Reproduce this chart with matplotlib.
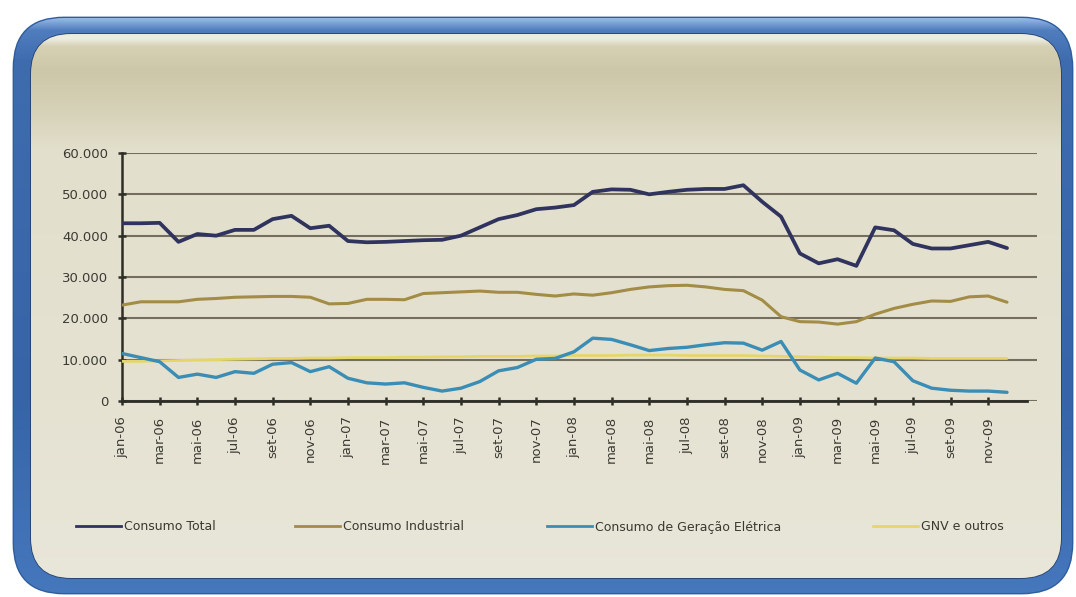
import numpy as np
import matplotlib
matplotlib.use("Agg")
import matplotlib.pyplot as plt
from matplotlib.patches import FancyBboxPatch
from matplotlib.lines import Line2D

# ---------------- data ----------------
months_pt = ["jan", "fev", "mar", "abr", "mai", "jun", "jul", "ago", "set", "out", "nov", "dez"]
years = ["06", "07", "08", "09"]
categories = [f"{m}-{y}" for y in years for m in months_pt]

consumo_total = [43000, 43000, 43100, 38500, 40400, 40000, 41400, 41400, 44000, 44800,
                 41800, 42400, 38700, 38400, 38500, 38700, 38900, 39000, 40000, 42000,
                 44000, 45000, 46400, 46800, 47400, 50600, 51200, 51100, 50000, 50600,
                 51100, 51300, 51300, 52200, 48200, 44600, 35700, 33300, 34300, 32700,
                 42000, 41300, 38000, 36900, 36900, 37700, 38500, 37000]

consumo_industrial = [23200, 24000, 24000, 24000, 24600, 24800, 25100, 25200, 25300, 25300,
                      25100, 23500, 23600, 24600, 24600, 24500, 26000, 26200, 26400, 26600,
                      26300, 26300, 25800, 25400, 25900, 25600, 26200, 27000, 27600, 27900,
                      28000, 27600, 27000, 26700, 24400, 20400, 19200, 19100, 18600, 19200,
                      21000, 22400, 23400, 24200, 24100, 25200, 25400, 23900]

consumo_geracao = [11500, 10500, 9500, 5700, 6500, 5700, 7100, 6700, 8900, 9300,
                   7100, 8300, 5500, 4400, 4100, 4400, 3300, 2400, 3100, 4700,
                   7300, 8100, 10100, 10300, 11900, 15200, 14900, 13600, 12200, 12700,
                   13000, 13600, 14100, 14000, 12300, 14400, 7500, 5100, 6700, 4300,
                   10400, 9500, 4900, 3100, 2600, 2400, 2400, 2100]

gnv_outros = [9600, 9600, 9700, 9800, 9900, 10000, 10100, 10200, 10300, 10300,
              10400, 10400, 10500, 10500, 10500, 10600, 10600, 10700, 10700, 10800,
              10800, 10800, 10900, 10900, 11000, 11000, 11000, 11100, 11100, 11100,
              11000, 11000, 11000, 11000, 10900, 10800, 10700, 10600, 10500, 10500,
              10400, 10400, 10400, 10300, 10300, 10300, 10300, 10300]

series_names = ["Consumo Total", "Consumo Industrial", "Consumo de Geração Elétrica", "GNV e outros"]
y_ticks = [0, 10000, 20000, 30000, 40000, 50000, 60000]
y_ticklabels = ["0", "10.000", "20.000", "30.000", "40.000", "50.000", "60.000"]

# ---------------- figure ----------------
W, H = 1076, 597
fig = plt.figure(figsize=(W / 100, H / 100), dpi=100, facecolor="white")

# background frame (pixel coords)
bg = fig.add_axes([0, 0, 1, 1], zorder=-5)
bg.set_xlim(0, W)
bg.set_ylim(H, 0)
bg.axis("off")

# blue outer frame with a vertical gradient (light on top, darker lower)
outer = FancyBboxPatch((14, 18), 1058, 575, boxstyle="round,pad=0,rounding_size=50",
                       facecolor="#4f83c4", edgecolor="#2d5d9d", linewidth=2.0)
bg.add_patch(outer)
ys = np.arange(H)
b_stops_y = [0, 18, 30, 60, 400, 597]
b_stops_c = np.array([[150, 185, 228], [150, 185, 228], [80, 125, 190],
                      [62, 108, 175], [55, 100, 168], [70, 120, 190]]) / 255.0
bgrad = np.stack([np.interp(ys, b_stops_y, b_stops_c[:, i]) for i in range(3)], axis=-1)
bgrad = np.repeat(bgrad[:, None, :], 2, axis=1)
bim = bg.imshow(bgrad, extent=(0, W, H, 0), aspect="auto", interpolation="bilinear", zorder=1.5)
bim.set_clip_path(outer)

# beige panel with vertical gradient
panel = FancyBboxPatch((31, 34), 1030, 544, boxstyle="round,pad=0,rounding_size=40",
                       facecolor="#e5e2ce", edgecolor="#243f6e", linewidth=1.2, zorder=2)
bg.add_patch(panel)
stops_y = [0, 34, 38, 46, 70, 110, 150, 400, 597]
stops_c = np.array([
    [236, 235, 222], [236, 235, 222], [238, 237, 226], [214, 209, 180],
    [204, 199, 168], [214, 210, 184], [226, 223, 204], [229, 226, 210], [233, 231, 218]
]) / 255.0
grad = np.stack([np.interp(ys, stops_y, stops_c[:, i]) for i in range(3)], axis=-1)
grad = np.repeat(grad[:, None, :], 2, axis=1)
im = bg.imshow(grad, extent=(0, W, H, 0), aspect="auto", interpolation="bilinear", zorder=3)
im.set_clip_path(panel)

# ---------------- main axes ----------------
px_per_month = 18.83
x0_px, x_axis_end_px, grid_end_px = 122, 1027, 1037
y_top_px, y_bot_px = 153, 401
ax = fig.add_axes([x0_px / W, 1 - y_bot_px / H, (grid_end_px - x0_px) / W, (y_bot_px - y_top_px) / H])
ax.patch.set_alpha(0)
xmax = (grid_end_px - x0_px) / px_per_month
ax.set_xlim(0, xmax)
ax.set_ylim(0, 60000)

x = np.arange(len(categories))
colors = ["#2f335e", "#a38c45", "#3a8db5", "#e6d66a"]
widths = [2.7, 2.2, 2.4, 2.0]
data = [consumo_total, consumo_industrial, consumo_geracao, gnv_outros]
zorders = [5, 4, 6, 3]
lines = []
for vals, c, lw, name, zo in zip(data, colors, widths, series_names, zorders):
    ln, = ax.plot(x, vals, color=c, lw=lw, label=name, solid_joinstyle="round",
                  solid_capstyle="round", zorder=zo)
    lines.append(ln)

# grid
ax.set_yticks(y_ticks)
ax.set_yticklabels(y_ticklabels)
ax.yaxis.grid(True, color="#746e5e", lw=1.5, zorder=1)
ax.set_axisbelow(True)

ax.set_xticks(x[::2])
ax.set_xticklabels(categories[::2], rotation=90)

for s in ["top", "right"]:
    ax.spines[s].set_visible(False)
ax.spines["left"].set_color("#2e2d26")
ax.spines["left"].set_linewidth(1.8)
ax.spines["bottom"].set_color("#2e2d26")
ax.spines["bottom"].set_linewidth(2.0)
ax.spines["bottom"].set_bounds(0, (x_axis_end_px - x0_px) / px_per_month)
ax.spines["bottom"].set_zorder(7)

ax.tick_params(axis="both", direction="inout", length=6, width=1.8, color="#2e2d26",
               labelsize=9.5, labelcolor="#3c3b33")
ax.tick_params(axis="y", pad=7)
ax.tick_params(axis="x", pad=8)

# ---------------- legend (4 separate entries, positioned like the original) ----------------
leg_handle_x = [76, 295, 547, 873]
leg_y = 527
for ln, lx in zip(lines, leg_handle_x):
    handle = Line2D([], [], color=ln.get_color(), lw=2.0)
    fig.legend([handle], [ln.get_label()], loc="center left",
               bbox_to_anchor=(lx / W, 1 - leg_y / H), frameon=False,
               fontsize=9, handlelength=3.6, handletextpad=0.25,
               borderpad=0, borderaxespad=0, labelcolor="#3a3930")

fig.savefig("out.png", dpi=100, facecolor="white")
